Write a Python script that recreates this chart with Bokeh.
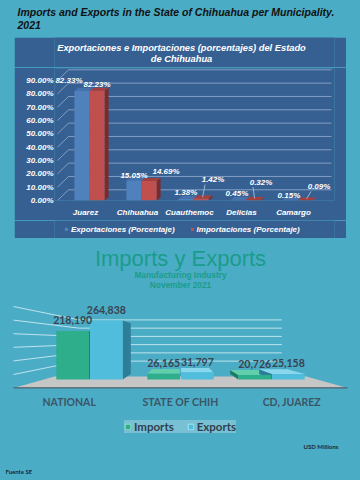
from bokeh.plotting import figure
from bokeh.models import (Range1d, FixedTicker, Legend, LegendItem, Label,
                          LinearAxis, Spacer)
from bokeh.layouts import column, row
from bokeh.core.properties import value
from bokeh.embed import file_html
from bokeh.resources import INLINE

# ---------------- data ----------------
municipalities = ["Juarez", "Chihuahua", "Cuauthemoc", "Delicias", "Camargo"]
exports_pct = [82.33, 15.05, 1.38, 0.45, 0.15]
imports_pct = [82.23, 14.69, 1.42, 0.32, 0.09]
pct_ticks = [0, 10, 20, 30, 40, 50, 60, 70, 80, 90]

regions = ["NATIONAL", "STATE OF CHIH", "CD, JUAREZ"]
imports_musd = [218190, 26165, 20726]
exports_musd = [264838, 31797, 25158]
musd_ticks = [50000, 100000, 150000, 200000, 250000, 300000]

# label placement in pixels (percentage chart)
exp_lbl_dx = [-13, 0, 0, -1, -1]
exp_lbl_dy = [10, 5, 6, 6, 5]
imp_lbl_dx = [0, 17, 12, 8, 14]
imp_lbl_dy = [6, 9, 19, 18, 14]

# ---------------- styles ----------------
TEAL = "#4bacc6"
PANEL = "#376092"
BLUE, BLUE_TOP, BLUE_SIDE = "#4f81bd", "#4572aa", "#3b6396"
RED, RED_TOP, RED_SIDE = "#c0504d", "#a33f3c", "#7e2a28"
GREEN2, GREEN2_TOP, GREEN2_SIDE = "#2fae8c", "#62cfac", "#1d7b62"
CYAN2, CYAN2_TOP, CYAN2_SIDE = "#4fbddb", "#88d7ec", "#2f7e98"
ARIAL = "Liberation Sans"
CAL = "Lato"

# frames of plots stacked in a column are aligned: offsets of those frames
PANEL_FRAME_LEFT = 40      # inside the percentage panel
PAGE_FRAME_LEFT = 5        # in the page column


def blank(w, h, bg):
    f = figure(width=w, height=h, x_range=(0, 1), y_range=(0, 1),
               toolbar_location=None, output_backend="svg", min_border=0,
               x_axis_location=None, y_axis_location=None)
    f.grid.visible = False
    f.outline_line_color = None
    f.background_fill_color = bg
    f.border_fill_color = bg
    return f


def no_ticks(ax):
    ax.axis_line_color = None
    ax.major_tick_line_color = None
    ax.minor_tick_line_color = None
    ax.major_tick_out = 0
    ax.major_tick_in = 0
    ax.minor_tick_out = 0
    ax.minor_tick_in = 0


# ---------------- header ----------------
head = blank(360, 37, TEAL)
for txt, yy in [("Imports and Exports in the State of Chihuahua per Municipality.", 26),
                ("2021", 12.5)]:
    head.add_layout(Label(x=17 - PAGE_FRAME_LEFT, y=yy, x_units="screen", y_units="screen",
                          text=txt, text_font=ARIAL, text_font_size="10.5px",
                          text_font_style="bold italic", text_color="#111111",
                          text_baseline="middle"))

# ---------------- percentage panel: title ----------------
ptitle = blank(332, 30, PANEL)
for txt, yy in [("Exportaciones e Importaciones (porcentajes) del Estado", 19.5),
                ("de Chihuahua", 8.5)]:
    ptitle.add_layout(Label(x=167 - PANEL_FRAME_LEFT, y=yy, x_units="screen", y_units="screen",
                            text=txt, text_font=ARIAL, text_font_size="9.3px",
                            text_font_style="bold italic", text_color="white",
                            text_align="center", text_baseline="middle"))

# ---------------- percentage panel: chart ----------------
PXU, PYU = 52.0, 1.333          # pixels per x unit / per percent
DX, DY = 4 / PXU, 3 / PYU       # 3D depth of bar faces
GDX, GDY = 11 / PXU, 10.7 / PYU # back wall offset
X0, X1 = -0.673, 4.712

top = figure(width=332, height=153, x_range=Range1d(X0, X1), y_range=Range1d(0, 99),
             toolbar_location=None, output_backend="svg",
             min_border_left=PANEL_FRAME_LEFT, min_border_right=12, min_border_top=1,
             min_border_bottom=20, x_axis_location=None)
top.background_fill_color = PANEL
top.border_fill_color = PANEL
top.outline_line_color = None
top.grid.visible = False

ya = top.yaxis[0]
ya.ticker = FixedTicker(ticks=pct_ticks)
ya.major_label_overrides = {t: f"{t:.2f}%" for t in pct_ticks}
no_ticks(ya)
ya.major_label_standoff = 1
ya.major_label_text_color = "white"
ya.major_label_text_font = ARIAL
ya.major_label_text_font_size = "8px"
ya.major_label_text_font_style = "bold italic"

# gridlines on the back wall of the 3D box
x_front = -0.615
x_end = 4.654
top.multi_line(xs=[[x_front, x_front + GDX, x_end] for t in pct_ticks],
               ys=[[t, t + GDY, t + GDY] for t in pct_ticks],
               line_color="#a9bddb", line_width=0.8, line_alpha=0.85)

idx = list(range(len(municipalities)))


def faces(xl_list, xr_list, vals):
    tops_x, tops_y, side_x, side_y = [], [], [], []
    for xl, xr, v in zip(xl_list, xr_list, vals):
        tops_x.append([xl, xr, xr + DX, xl + DX])
        tops_y.append([v, v, v + DY, v + DY])
        side_x.append([xr, xr + DX, xr + DX, xr])
        side_y.append([0, DY, v + DY, v])
    return tops_x, tops_y, side_x, side_y


bx = [i - 0.145 for i in idx]
rx = [i + 0.145 for i in idx]
tx, ty, sx, sy = faces([i - 0.29 for i in idx], [i for i in idx], exports_pct)
top.patches(sx, sy, fill_color=BLUE_SIDE, line_color=None)
top.patches(tx, ty, fill_color=BLUE_TOP, line_color=None)
top.vbar(x=bx, top=exports_pct, width=0.29, fill_color=BLUE, line_color=None)
tx, ty, sx, sy = faces([i for i in idx], [i + 0.29 for i in idx], imports_pct)
top.patches(sx, sy, fill_color=RED_SIDE, line_color=None)
top.patches(tx, ty, fill_color=RED_TOP, line_color=None)
top.vbar(x=rx, top=imports_pct, width=0.29, fill_color=RED, line_color=None)

# leader lines for displaced import labels
lx0, ly0, lx1, ly1 = [], [], [], []
for x, v, dx, dy in zip(rx, imports_pct, imp_lbl_dx, imp_lbl_dy):
    if dy >= 12:
        lx0.append(x + 0.03); ly0.append(v + DY * 0.5)
        lx1.append(x + (dx - 8) / PXU); ly1.append(v + (dy - 5) / PYU)
top.segment(x0=lx0, y0=ly0, x1=lx1, y1=ly1, line_color="#c9d6ea", line_width=0.7)

lbl_style = dict(text_color="white", text_font=value(ARIAL), text_font_size="8px",
                 text_font_style="bold italic", text_align="center", text_baseline="middle")
top.text(x=bx, y=exports_pct, text=[f"{v:.2f}%" for v in exports_pct],
         x_offset=exp_lbl_dx, y_offset=[-d for d in exp_lbl_dy], **lbl_style)
top.text(x=rx, y=imports_pct, text=[f"{v:.2f}%" for v in imports_pct],
         x_offset=imp_lbl_dx, y_offset=[-d for d in imp_lbl_dy], **lbl_style)

top.extra_x_ranges = {"lbl": Range1d(X0 + 0.077, X1 + 0.077)}
xa = LinearAxis(x_range_name="lbl", ticker=FixedTicker(ticks=idx),
                major_label_overrides={i: m for i, m in zip(idx, municipalities)})
no_ticks(xa)
xa.major_label_standoff = 7
xa.major_label_text_color = "white"
xa.major_label_text_font = ARIAL
xa.major_label_text_font_size = "8px"
xa.major_label_text_font_style = "bold italic"
top.add_layout(xa, "below")

# ---------------- percentage panel: legend ----------------
pleg = blank(332, 18, PANEL)
d_exp = pleg.vbar(x=bx, top=exports_pct, width=0.29, fill_color=BLUE, line_color=None,
                  visible=False)
d_imp = pleg.vbar(x=rx, top=imports_pct, width=0.29, fill_color=RED, line_color=None,
                  visible=False)
pleg.add_layout(Legend(
    items=[LegendItem(label="Exportaciones (Porcentaje)", renderers=[d_exp]),
           LegendItem(label="Importaciones (Porcentaje)", renderers=[d_imp])],
    orientation="horizontal", location=(50 - PANEL_FRAME_LEFT, 4),
    background_fill_alpha=0, border_line_color=None, inactive_fill_alpha=0,
    label_text_color="white", label_text_font=ARIAL, label_text_font_size="8px",
    label_text_font_style="bold italic", glyph_width=4, glyph_height=4,
    label_standoff=3, spacing=15, padding=0, margin=0, label_height=10))

panel = row(Spacer(width=14, height=201),
            column(ptitle, top, pleg),
            Spacer(width=14, height=201))

# ---------------- manufacturing: titles ----------------
btitle = blank(360, 58, TEAL)
for txt, yy, size, style in [("Imports y Exports", 38.5, "22px", "normal"),
                             ("Manufacturing Industry", 22, "8.3px", "bold"),
                             ("November 2021", 12, "8.3px", "bold")]:
    btitle.add_layout(Label(x=180 - PAGE_FRAME_LEFT, y=yy, x_units="screen", y_units="screen",
                            text=txt, text_font=ARIAL, text_font_size=size,
                            text_font_style=style, text_color="#1a9c8b",
                            text_align="center", text_baseline="middle"))

# ---------------- manufacturing: chart ----------------
BX0, BX1 = -0.923, 2.923           # frame from x=5 to x=355 px
FLOOR_L, FLOOR_R = -0.835, 2.835   # front corners of the floor
bot = figure(width=360, height=116, x_range=Range1d(BX0, BX1),
             y_range=Range1d(-40400, 372600), toolbar_location=None, output_backend="svg",
             min_border_left=PAGE_FRAME_LEFT, min_border_right=5, min_border_top=0,
             min_border_bottom=24, x_axis_location=None, y_axis_location=None)
bot.background_fill_color = TEAL
bot.border_fill_color = TEAL
bot.outline_line_color = None
bot.grid.visible = False

VPX, VPY = 1.0, 175000.0
S_FRONT, S_FLOOR, S_WALL, S_BAR = 1.22, 0.92, 0.74, 0.86


def persp(x, y, s):
    return VPX + (x - VPX) * s, VPY + (y - VPY) * s


XL = VPX + (FLOOR_L - VPX) / S_FRONT
XR = VPX + (FLOOR_R - VPX) / S_FRONT

fl = [persp(XL, 0, S_FRONT), persp(XR, 0, S_FRONT), persp(XR, 0, S_FLOOR), persp(XL, 0, S_FLOOR)]
bot.patch([p[0] for p in fl], [p[1] for p in fl], fill_color="#c6c6c6", line_color=None)
bot.line([fl[0][0], fl[1][0]], [fl[0][1], fl[1][1]], line_color="#4a5560", line_width=1.5)

wx, wy = [], []
for t in musd_ticks:
    pts = [persp(XL, t, S_FRONT), persp(XL, t, S_WALL), persp(XR, t, S_WALL)]
    wx.append([p[0] for p in pts]); wy.append([p[1] for p in pts])
bot.multi_line(wx, wy, line_color="#e4f5fa", line_width=1, line_alpha=0.75)

gx = [i - 0.185 for i in range(len(regions))]
cx = [i + 0.185 for i in range(len(regions))]
HW = 0.18


def box_faces(centers, vals):
    tops_x, tops_y, sides_x, sides_y = [], [], [], []
    for c, v in zip(centers, vals):
        xl, xr = c - HW, c + HW
        if v < VPY:
            q = [(xl, v), (xr, v), persp(xr, v, S_BAR), persp(xl, v, S_BAR)]
            tops_x.append([p[0] for p in q]); tops_y.append([p[1] for p in q])
        edge = xr if xr < VPX else (xl if xl > VPX else None)
        if edge is not None:
            q = [(edge, 0), (edge, v), persp(edge, v, S_BAR), persp(edge, 0, S_BAR)]
            sides_x.append([p[0] for p in q]); sides_y.append([p[1] for p in q])
    return tops_x, tops_y, sides_x, sides_y


for centers, vals, col_top, col_side in [(gx, imports_musd, GREEN2_TOP, GREEN2_SIDE),
                                          (cx, exports_musd, CYAN2_TOP, CYAN2_SIDE)]:
    tx, ty, sx, sy = box_faces(centers, vals)
    if sx:
        bot.patches(sx, sy, fill_color=col_side, line_color=None)
    if tx:
        bot.patches(tx, ty, fill_color=col_top, line_color=None)

bot.vbar(x=gx, top=imports_musd, width=2 * HW, fill_color=GREEN2, line_color=None)
bot.vbar(x=cx, top=exports_musd, width=2 * HW, fill_color=CYAN2, line_color=None)

val_style = dict(text_color="#38434f", text_font=value(CAL), text_font_size="10.5px",
                 text_font_style="bold", text_align="center", text_baseline="middle",
                 y_offset=-10.5)
bot.text(x=gx, y=imports_musd, text=[f"{v:,}" for v in imports_musd], **val_style)
bot.text(x=cx, y=exports_musd, text=[f"{v:,}" for v in exports_musd], **val_style)

bot.extra_x_ranges = {"lbl": Range1d(-0.572, 2.572)}
ba = LinearAxis(x_range_name="lbl", ticker=FixedTicker(ticks=list(range(len(regions)))),
                major_label_overrides={i: r for i, r in enumerate(regions)})
no_ticks(ba)
ba.major_label_standoff = 7
ba.major_label_text_color = "#3c5566"
ba.major_label_text_font = CAL
ba.major_label_text_font_size = "10.5px"
ba.major_label_text_font_style = "bold"
bot.add_layout(ba, "below")

# ---------------- manufacturing: legend and notes ----------------
bleg = blank(360, 68, TEAL)
d_i = bleg.vbar(x=gx, top=imports_musd, width=2 * HW, fill_color=GREEN2,
                line_color="#8fe0c4", visible=False)
d_e = bleg.vbar(x=cx, top=exports_musd, width=2 * HW, fill_color=CYAN2,
                line_color="#a6e4f3", visible=False)
bleg.add_layout(Legend(
    items=[LegendItem(label="Imports", renderers=[d_i]),
           LegendItem(label="Exports", renderers=[d_e])],
    orientation="horizontal", location=(124 - PAGE_FRAME_LEFT, 47),
    background_fill_color="white", background_fill_alpha=0.25, inactive_fill_alpha=0,
    border_line_color=None, label_text_color="#2f3e4e", label_text_font=CAL,
    label_text_font_size="11.5px", label_text_font_style="bold",
    glyph_width=7, glyph_height=7, label_standoff=3, spacing=13,
    padding=3, margin=0, label_height=13))
bleg.add_layout(Label(x=338 - PAGE_FRAME_LEFT, y=34, x_units="screen", y_units="screen",
                      text="USD Millions", text_font=CAL, text_font_size="6px",
                      text_font_style="bold", text_color="#1f2a33", text_align="right",
                      text_baseline="middle"))
bleg.add_layout(Label(x=5 - PAGE_FRAME_LEFT, y=9, x_units="screen", y_units="screen",
                      text="Fuente SE", text_font=CAL, text_font_size="6px",
                      text_font_style="bold", text_color="#1f2a33", text_align="left",
                      text_baseline="middle"))

layout = column(head, panel, btitle, bot, bleg, styles={"background-color": TEAL})

open("out.html", "w").write(file_html(layout, INLINE))
